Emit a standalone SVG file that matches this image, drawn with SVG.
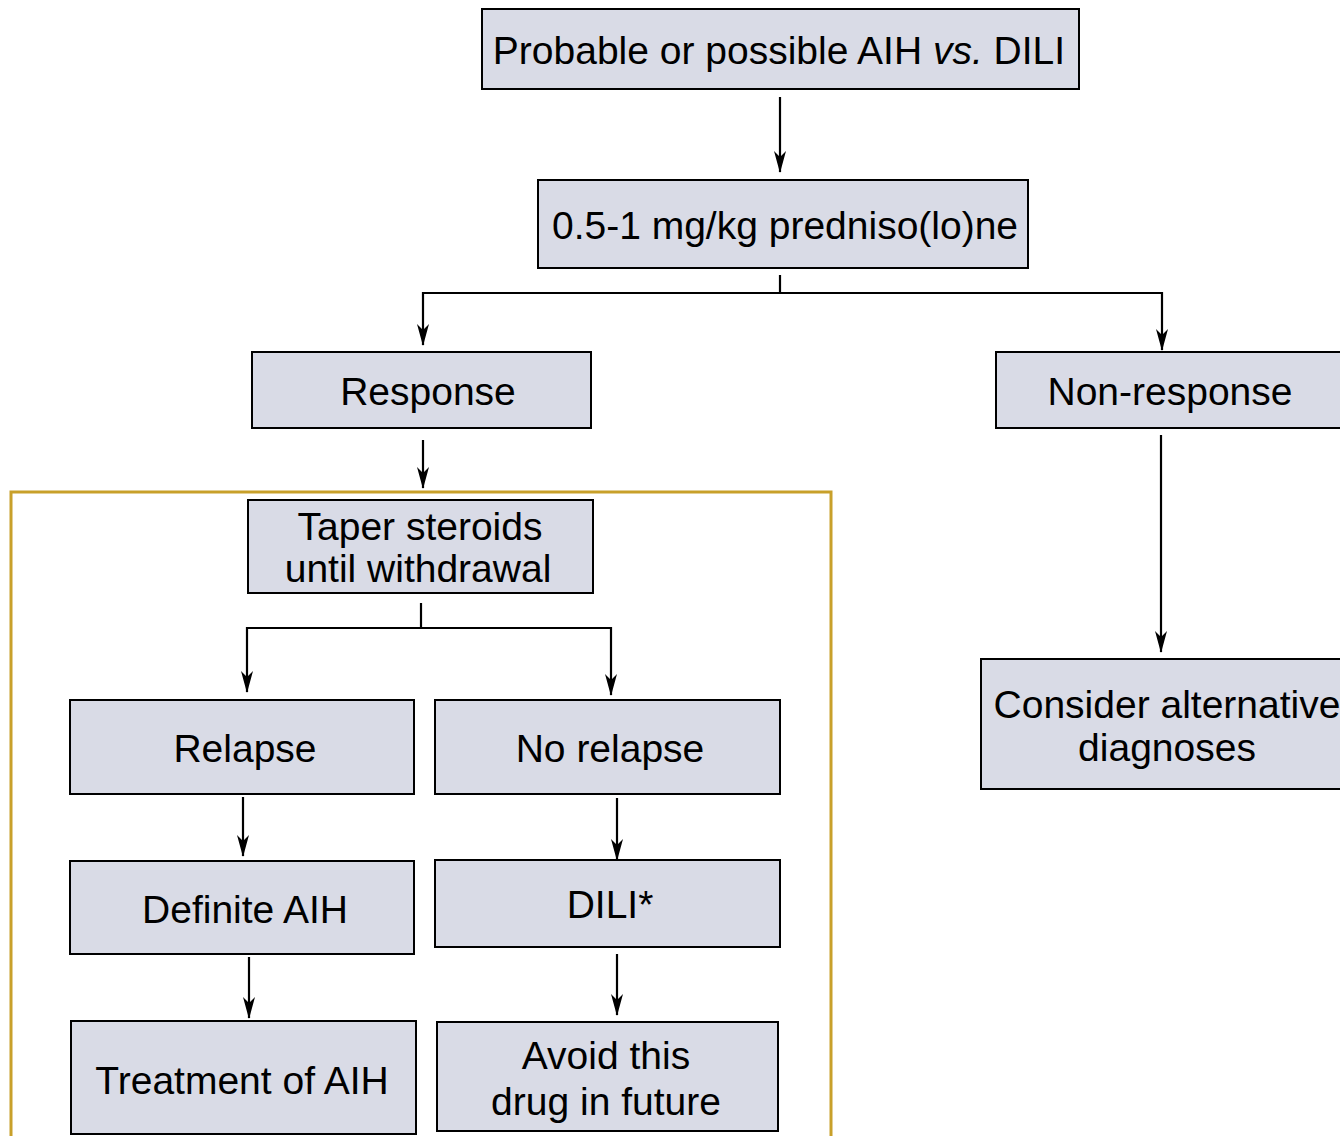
<svg xmlns="http://www.w3.org/2000/svg" width="1340" height="1136" viewBox="0 0 1340 1136">
<style>
.box{fill:#d9dbe6;stroke:#000;stroke-width:2}
.t{font-family:"Liberation Sans",Arial,sans-serif;font-size:39px;fill:#000;text-anchor:middle}
.c{fill:none;stroke:#000;stroke-width:2.2}
</style>
<defs>
<marker id="ah" viewBox="0 0 22 12" refX="21" refY="6" markerWidth="22" markerHeight="12" markerUnits="userSpaceOnUse" orient="auto-start-reverse">
<path d="M0,0 L22,6 L0,12 L6,6 Z" fill="#000"/>
</marker>
</defs>
<rect width="1340" height="1136" fill="#fff"/>
<rect x="11" y="492" width="820" height="660" fill="none" stroke="#c8a02a" stroke-width="3"/>
<g id="connectors">
<line class="c" x1="780" y1="97" x2="780" y2="172" marker-end="url(#ah)"/>
<polyline class="c" points="780,275 780,293"/>
<polyline class="c" points="423,345 423,293 1162,293 1162,350" marker-start="url(#ah)" marker-end="url(#ah)"/>
<line class="c" x1="423" y1="440" x2="423" y2="488" marker-end="url(#ah)"/>
<line class="c" x1="1161" y1="435" x2="1161" y2="652" marker-end="url(#ah)"/>
<polyline class="c" points="421,603 421,628"/>
<polyline class="c" points="247,692 247,628 611,628 611,695" marker-start="url(#ah)" marker-end="url(#ah)"/>
<line class="c" x1="243" y1="797" x2="243" y2="856" marker-end="url(#ah)"/>
<line class="c" x1="617" y1="798" x2="617" y2="860" marker-end="url(#ah)"/>
<line class="c" x1="249" y1="957" x2="249" y2="1018" marker-end="url(#ah)"/>
<line class="c" x1="617" y1="954" x2="617" y2="1015" marker-end="url(#ah)"/>
</g>
<g id="n1"><rect class="box" x="482" y="9" width="597" height="80"/><text class="t" x="779" y="64">Probable or possible AIH <tspan font-style="italic">vs.</tspan> DILI</text></g>
<g id="n2"><rect class="box" x="538" y="180" width="490" height="88"/><text class="t" x="785" y="239">0.5-1 mg/kg predniso(lo)ne</text></g>
<g id="n3"><rect class="box" x="252" y="352" width="339" height="76"/><text class="t" x="428" y="405">Response</text></g>
<g id="n4"><rect class="box" x="996" y="352" width="360" height="76"/><text class="t" x="1170" y="405">Non-response</text></g>
<g id="n5"><rect class="box" x="248" y="500" width="345" height="93"/><text class="t" x="420" y="540">Taper steroids</text><text class="t" x="418" y="582">until withdrawal</text></g>
<g id="n6"><rect class="box" x="70" y="700" width="344" height="94"/><text class="t" x="245" y="762">Relapse</text></g>
<g id="n7"><rect class="box" x="435" y="700" width="345" height="94"/><text class="t" x="610" y="762">No relapse</text></g>
<g id="n8"><rect class="box" x="70" y="861" width="344" height="93"/><text class="t" x="245" y="923">Definite AIH</text></g>
<g id="n9"><rect class="box" x="435" y="860" width="345" height="87"/><text class="t" x="610" y="918">DILI*</text></g>
<g id="n10"><rect class="box" x="71" y="1021" width="345" height="113"/><text class="t" x="242" y="1094">Treatment of AIH</text></g>
<g id="n11"><rect class="box" x="437" y="1022" width="341" height="109"/><text class="t" x="606" y="1069">Avoid this</text><text class="t" x="606" y="1115">drug in future</text></g>
<g id="n12"><rect class="box" x="981" y="659" width="380" height="130"/><text class="t" x="1167" y="718">Consider alternative</text><text class="t" x="1167" y="761">diagnoses</text></g>
</svg>
